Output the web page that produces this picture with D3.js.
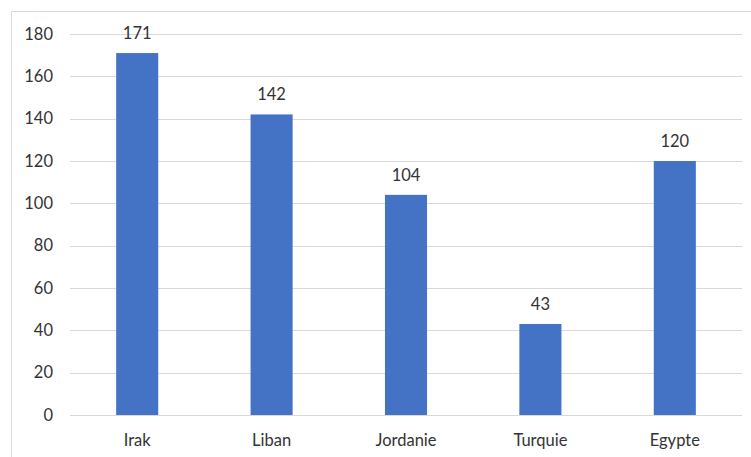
<!DOCTYPE html>
<html>
<head>
<meta charset="utf-8">
<script src="https://cdn.jsdelivr.net/npm/d3@7"></script>
<style>
  html, body { margin: 0; padding: 0; background: #fff; }
  svg { display: block; }
</style>
</head>
<body>
<script>
// Chart data
const categories = ["Irak", "Liban", "Jordanie", "Turquie", "Egypte"];
const values = [171, 142, 104, 43, 120];
const yTicks = [0, 20, 40, 60, 80, 100, 120, 140, 160, 180];

const W = 751, H = 457;
const plot = { left: 70, right: 742, top: 34, bottom: 415 };
const font = "Lato, 'Open Sans', sans-serif";
const fontSize = 16.5;
const textColor = "#333333";

const svg = d3.select("body").append("svg")
  .attr("width", W).attr("height", H);

// chart frame
svg.append("rect")
  .attr("x", 11.5).attr("y", 11.5)
  .attr("width", W + 10).attr("height", H + 10)
  .attr("fill", "#fff").attr("stroke", "#d9d9d9").attr("stroke-width", 1);

const x = d3.scaleBand()
  .domain(categories)
  .range([plot.left, plot.right])
  .paddingInner(0.687)
  .paddingOuter(0.687 / 2);

const y = d3.scaleLinear()
  .domain([0, 180])
  .range([plot.bottom, plot.top]);

// horizontal gridlines
svg.append("g")
  .selectAll("line")
  .data(yTicks)
  .join("line")
  .attr("x1", plot.left).attr("x2", plot.right)
  .attr("y1", d => Math.round(y(d)) + 0.5)
  .attr("y2", d => Math.round(y(d)) + 0.5)
  .attr("stroke", "#d9d9d9").attr("stroke-width", 1);

// y axis labels
const yAxis = d3.axisLeft(y).tickValues(yTicks).tickSize(0).tickPadding(17);
const gy = svg.append("g")
  .attr("transform", `translate(${plot.left},0)`)
  .call(yAxis);
gy.select(".domain").remove();
gy.selectAll("text")
  .attr("font-family", font).attr("font-size", fontSize)
  .attr("fill", textColor);

// bars
svg.append("g")
  .selectAll("rect")
  .data(values)
  .join("rect")
  .attr("x", (d, i) => x(categories[i]))
  .attr("y", d => y(d))
  .attr("width", x.bandwidth())
  .attr("height", d => y(0) - y(d))
  .attr("fill", "#4472c4");

// value labels
svg.append("g")
  .selectAll("text")
  .data(values)
  .join("text")
  .attr("x", (d, i) => x(categories[i]) + x.bandwidth() / 2)
  .attr("y", d => y(d) - 14)
  .attr("text-anchor", "middle")
  .attr("font-family", font).attr("font-size", fontSize)
  .attr("fill", textColor)
  .text(d => d);

// category axis labels
const xAxis = d3.axisBottom(x).tickSize(0).tickPadding(19);
const gx = svg.append("g")
  .attr("transform", `translate(0,${plot.bottom})`)
  .call(xAxis);
gx.select(".domain").remove();
gx.selectAll("text")
  .attr("font-family", font).attr("font-size", fontSize)
  .attr("fill", textColor);
</script>
</body>
</html>
